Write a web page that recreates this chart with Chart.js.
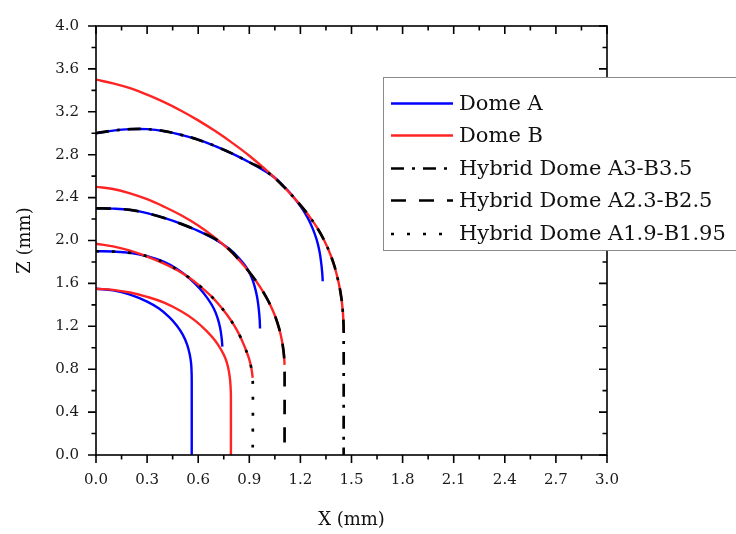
<!DOCTYPE html>
<html>
<head>
<meta charset="utf-8">
<script src="https://cdn.jsdelivr.net/npm/chart.js@4.4.0/dist/chart.umd.min.js"></script>
<style>
  body { margin: 0; background: #fff; }
  #wrap { width: 736px; height: 534px; }
</style>
</head>
<body>
<div id="wrap"><canvas id="domeChart" width="736" height="534"></canvas></div>
<script>
// dome profiles, [x, z] in mm
var domeA_155 = [[0,1.55],[0.1,1.535],[0.2,1.495],[0.3,1.43],[0.37,1.365],[0.43,1.285],[0.475,1.205],[0.51,1.12],[0.535,1.03],[0.55,0.94],[0.558,0.86],[0.561,0.78],[0.562,0.7],[0.562,0]];
var domeA_19 = [[0,1.9],[0.1,1.897],[0.2,1.885],[0.3,1.853],[0.4,1.8],[0.48,1.73],[0.55,1.645],[0.61,1.55],[0.655,1.46],[0.69,1.37],[0.713,1.28],[0.728,1.19],[0.737,1.1],[0.742,1.01]];
var domeA_23 = [[0,2.3],[0.1,2.297],[0.2,2.285],[0.3,2.255],[0.4,2.21],[0.5,2.155],[0.6,2.09],[0.7,2.01],[0.78,1.925],[0.84,1.835],[0.88,1.755],[0.91,1.67],[0.93,1.58],[0.945,1.48],[0.955,1.37],[0.961,1.26],[0.963,1.18]];
var domeA_30 = [[0,3.0],[0.1,3.025],[0.2,3.038],[0.3,3.038],[0.4,3.02],[0.5,2.985],[0.6,2.94],[0.7,2.88],[0.8,2.81],[0.9,2.73],[1.0,2.64],[1.05,2.585],[1.1,2.51],[1.15,2.425],[1.2,2.32],[1.24,2.22],[1.27,2.12],[1.295,2.01],[1.312,1.9],[1.323,1.78],[1.329,1.68],[1.331,1.62]];

var domeB_155 = [[0,1.55],[0.1,1.54],[0.2,1.515],[0.3,1.475],[0.4,1.42],[0.5,1.34],[0.58,1.255],[0.65,1.155],[0.7,1.065],[0.735,0.98],[0.76,0.9],[0.775,0.82],[0.785,0.73],[0.79,0.64],[0.792,0.55],[0.792,0]];
var domeB_195 = [[0,1.97],[0.1,1.945],[0.2,1.905],[0.3,1.85],[0.4,1.785],[0.48,1.72],[0.55,1.65],[0.61,1.575],[0.67,1.49],[0.72,1.405],[0.77,1.305],[0.81,1.21],[0.845,1.11],[0.875,1.0],[0.898,0.9],[0.912,0.81],[0.92,0.72]];
var domeB_25 = [[0,2.5],[0.1,2.48],[0.2,2.44],[0.3,2.385],[0.4,2.315],[0.5,2.235],[0.6,2.14],[0.7,2.025],[0.78,1.915],[0.85,1.8],[0.91,1.685],[0.96,1.575],[1.0,1.47],[1.03,1.375],[1.055,1.28],[1.075,1.18],[1.09,1.08],[1.1,0.98],[1.105,0.9],[1.107,0.84]];
var domeB_35 = [[0,3.5],[0.1,3.465],[0.2,3.42],[0.3,3.36],[0.4,3.29],[0.5,3.21],[0.6,3.12],[0.7,3.02],[0.8,2.91],[0.9,2.79],[1.0,2.655],[1.1,2.505],[1.2,2.33],[1.25,2.23],[1.3,2.115],[1.34,2.0],[1.376,1.87],[1.4,1.76],[1.424,1.61],[1.44,1.47],[1.449,1.34],[1.453,1.23],[1.454,1.15]];

// hybrids: A profile near the crown, B profile towards the rim, then the straight wall
var hybrid_A3_B35 = [[0,3.0],[0.1,3.025],[0.2,3.038],[0.3,3.038],[0.4,3.02],[0.5,2.985],[0.6,2.94],[0.7,2.88],[0.8,2.81],[0.9,2.73],[1.0,2.645],[1.1,2.505],[1.2,2.33],[1.25,2.23],[1.3,2.115],[1.34,2.0],[1.376,1.87],[1.4,1.76],[1.424,1.61],[1.44,1.47],[1.449,1.34],[1.453,1.23],[1.454,1.15],[1.454,0]];
var hybrid_A23_B25 = [[0,2.3],[0.1,2.297],[0.2,2.285],[0.3,2.255],[0.4,2.21],[0.5,2.155],[0.6,2.09],[0.7,2.015],[0.78,1.92],[0.85,1.8],[0.91,1.685],[0.96,1.575],[1.0,1.47],[1.03,1.375],[1.055,1.28],[1.075,1.18],[1.09,1.08],[1.1,0.98],[1.105,0.9],[1.107,0.84],[1.107,0]];
var hybrid_A19_B195 = [[0,1.9],[0.1,1.897],[0.2,1.885],[0.3,1.853],[0.4,1.795],[0.48,1.725],[0.55,1.65],[0.61,1.575],[0.67,1.49],[0.72,1.405],[0.77,1.305],[0.81,1.21],[0.845,1.11],[0.875,1.0],[0.898,0.9],[0.912,0.81],[0.92,0.72],[0.92,0]];

var seriesNames = ["Dome A", "Dome B", "Hybrid Dome A3-B3.5", "Hybrid Dome A2.3-B2.5", "Hybrid Dome A1.9-B1.95"];
var xTicks = [0, 0.3, 0.6, 0.9, 1.2, 1.5, 1.8, 2.1, 2.4, 2.7, 3.0];
var zTicks = [0, 0.4, 0.8, 1.2, 1.6, 2.0, 2.4, 2.8, 3.2, 3.6, 4.0];

var FONT = "'DejaVu Serif', 'Liberation Serif', serif";

function toXY(arr) {
  return arr.map(function (p) { return { x: p[0], y: p[1] }; });
}

function curve(name, pts, color, dash, width, order) {
  return {
    label: name,
    data: toXY(pts),
    borderColor: color,
    backgroundColor: color,
    borderWidth: width,
    borderDash: dash,
    showLine: true,
    pointRadius: 0,
    tension: 0.4,
    fill: false,
    order: order
  };
}

var blue = "#0000ff";
var red = "#ff2424";

var datasets = [
  curve(seriesNames[0], domeA_155, blue, [], 2.4, 2),
  curve(seriesNames[0], domeA_19, blue, [], 2.4, 2),
  curve(seriesNames[0], domeA_23, blue, [], 2.4, 2),
  curve(seriesNames[0], domeA_30, blue, [], 2.4, 2),
  curve(seriesNames[1], domeB_155, red, [], 2.4, 1),
  curve(seriesNames[1], domeB_195, red, [], 2.4, 1),
  curve(seriesNames[1], domeB_25, red, [], 2.4, 1),
  curve(seriesNames[1], domeB_35, red, [], 2.4, 1),
  curve(seriesNames[2], hybrid_A3_B35, "#000", [13, 8, 3, 8], 2.7, 0),
  curve(seriesNames[3], hybrid_A23_B25, "#000", [15, 13], 2.7, 0),
  curve(seriesNames[4], hybrid_A19_B195, "#000", [3, 13], 2.7, 0)
];

// frame round the plot, ticks out on bottom/left, in on top/right
var frameTicks = {
  id: "frameTicks",
  afterDatasetsDraw: function (chart) {
    var ctx = chart.ctx, a = chart.chartArea;
    var xs = chart.scales.x, ys = chart.scales.y;
    var big = 8, small = 4.5;
    ctx.save();
    ctx.strokeStyle = "#000";
    ctx.lineWidth = 1.6;
    ctx.strokeRect(a.left, a.top, a.right - a.left, a.bottom - a.top);
    ctx.beginPath();
    xTicks.forEach(function (v, i) {
      var px = xs.getPixelForValue(v);
      ctx.moveTo(px, a.bottom); ctx.lineTo(px, a.bottom + big);
      ctx.moveTo(px, a.top); ctx.lineTo(px, a.top + big);
      if (i < xTicks.length - 1) {
        var m = xs.getPixelForValue((v + xTicks[i + 1]) / 2);
        ctx.moveTo(m, a.bottom); ctx.lineTo(m, a.bottom + small);
        ctx.moveTo(m, a.top); ctx.lineTo(m, a.top + small);
      }
    });
    zTicks.forEach(function (v, i) {
      var py = ys.getPixelForValue(v);
      ctx.moveTo(a.left, py); ctx.lineTo(a.left - big, py);
      ctx.moveTo(a.right, py); ctx.lineTo(a.right - big, py);
      if (i < zTicks.length - 1) {
        var m = ys.getPixelForValue((v + zTicks[i + 1]) / 2);
        ctx.moveTo(a.left, m); ctx.lineTo(a.left - small, m);
        ctx.moveTo(a.right, m); ctx.lineTo(a.right - small, m);
      }
    });
    ctx.stroke();
    ctx.restore();
  }
};

// boxed legend sitting over the right edge of the plot
var boxLegend = {
  id: "boxLegend",
  afterDraw: function (chart) {
    var ctx = chart.ctx;
    var left = 383, top = 77, height = 173;
    var lineX0 = 391, lineX1 = 453, textX = 459;
    var rowY = [103.5, 135.5, 168.5, 200.5, 234];
    ctx.save();
    ctx.fillStyle = "#fff";
    ctx.fillRect(left, top, 420, height);
    ctx.strokeStyle = "#8a8a8a";
    ctx.lineWidth = 1;
    ctx.strokeRect(left + 0.5, top + 0.5, 420, height);
    seriesNames.forEach(function (name, i) {
      var ds = chart.data.datasets.find(function (d) { return d.label === name; });
      ctx.beginPath();
      ctx.setLineDash(ds.borderDash);
      ctx.strokeStyle = ds.borderColor;
      ctx.lineWidth = ds.borderWidth;
      ctx.moveTo(lineX0, rowY[i]);
      ctx.lineTo(lineX1, rowY[i]);
      ctx.stroke();
      ctx.setLineDash([]);
      ctx.fillStyle = "#111";
      ctx.font = "21px " + FONT;
      ctx.textBaseline = "middle";
      ctx.fillText(name, textX, rowY[i] + 1);
    });
    ctx.restore();
  }
};

var ctx = document.getElementById("domeChart").getContext("2d");
var chart = new Chart(ctx, {
  type: "scatter",
  data: { datasets: datasets },
  options: {
    responsive: false,
    animation: false,
    layout: { padding: { left: 0, top: 17, right: 129, bottom: 0 } },
    plugins: {
      legend: { display: false },
      tooltip: { enabled: false }
    },
    scales: {
      x: {
        type: "linear",
        min: 0,
        max: 3,
        grid: { display: false, drawTicks: false },
        border: { display: false },
        afterBuildTicks: function (s) { s.ticks = xTicks.map(function (v) { return { value: v }; }); },
        afterFit: function (s) { s.height = 79; },
        ticks: {
          padding: 16,
          color: "#1a1a1a",
          maxRotation: 0,
          autoSkip: false,
          font: { family: FONT, size: 15 },
          callback: function (v) { return v.toFixed(1); }
        },
        title: {
          display: true,
          text: "X (mm)",
          color: "#111",
          font: { family: FONT, size: 18 },
          padding: { top: 0, bottom: 3 }
        }
      },
      y: {
        type: "linear",
        min: 0,
        max: 4,
        grid: { display: false, drawTicks: false },
        border: { display: false },
        afterBuildTicks: function (s) { s.ticks = zTicks.map(function (v) { return { value: v }; }); },
        afterFit: function (s) { s.width = 96; },
        ticks: {
          padding: 17,
          color: "#1a1a1a",
          autoSkip: false,
          font: { family: FONT, size: 15 },
          callback: function (v) { return v.toFixed(1); }
        },
        title: {
          display: true,
          text: "Z (mm)",
          color: "#111",
          font: { family: FONT, size: 18 },
          padding: { top: 15, bottom: 0 }
        }
      }
    }
  },
  plugins: [frameTicks, boxLegend]
});
</script>
</body>
</html>
